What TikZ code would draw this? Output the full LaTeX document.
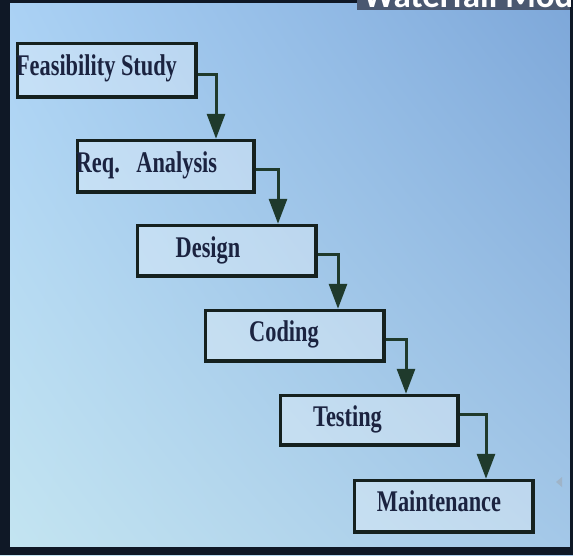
\documentclass[tikz,border=0pt]{standalone}
\usepackage{fontspec}
\usetikzlibrary{arrows.meta,shadings}
\newfontfamily\boxfont[FakeStretch=0.745]{Liberation Serif}
\newfontfamily\titlefont{Carlito}
\definecolor{bgUL}{HTML}{ABD2F5}
\definecolor{bgUR}{HTML}{7DA7D9}
\definecolor{bgLL}{HTML}{C4E5F1}
\definecolor{bgLR}{HTML}{A4C8E8}
\definecolor{framec}{HTML}{0F1826}
\definecolor{titlebg}{HTML}{4A5870}
\definecolor{boxline}{HTML}{15211F}
\definecolor{arrowc}{HTML}{1F3A2C}
\definecolor{textc}{HTML}{1B2340}
\definecolor{markc}{HTML}{9FB4C8}
\begin{document}
\begin{tikzpicture}[x=1pt,y=-1pt,
  box/.style={draw=boxline, line width=3.5pt, fill=white, fill opacity=0.3,
    draw opacity=1, rectangle, inner sep=0pt, anchor=north west},
  lbl/.style={font=\boxfont\bfseries\fontsize{30}{30}\selectfont, text=textc,
    inner sep=0pt, anchor=base},
  conn/.style={draw=arrowc, line width=3pt,
    -{Triangle[width=18pt,length=25pt]}}]
\useasboundingbox (0,0) rectangle (573,555);
% slide background
\shade[upper left=bgUL, upper right=bgUR, lower left=bgLL, lower right=bgLR]
  (0,0) rectangle (573,555);
% dark frame
\fill[framec] (0,0) rectangle (10,555);
\fill[framec] (0,0) rectangle (573,3);
\fill[framec] (0,547) rectangle (573,555);
\fill[framec] (570,0) rectangle (573,555);
% cut-off title
\fill[titlebg] (357,0) rectangle (570,10);
\begin{scope}
  \clip (357,0) rectangle (570,10);
  \node[font=\titlefont\bfseries\fontsize{35}{35}\selectfont, text=white,
    inner sep=0pt, anchor=base west] (title) at (363,7) {Waterfall Model};
\end{scope}
% small player mark
\fill[markc] (556,482) -- (562,477) -- (562,487) -- cycle;
% boxes
\node[box, minimum width=178.5pt, minimum height=53.5pt] (b1) at (15.75,41.75) {};
\node[box, minimum width=176.5pt, minimum height=51.5pt] (b2) at (75.75,138.75) {};
\node[box, minimum width=178.5pt, minimum height=50.5pt] (b3) at (135.75,223.75) {};
\node[box, minimum width=178.5pt, minimum height=50.5pt] (b4) at (203.75,308.75) {};
\node[box, minimum width=177.5pt, minimum height=49.5pt] (b5) at (278.75,393.75) {};
\node[box, minimum width=178.5pt, minimum height=51.5pt] (b6) at (352.75,478.75) {};
% labels
\node[lbl] (t1) at (96.5,75) {Feasibility Study};
\node[lbl] (t2) at (146.5,172) {Req.\hspace{16.5pt}Analysis};
\node[lbl] (t3) at (208,257) {Design};
\node[lbl] (t4) at (284,341.5) {Coding};
\node[lbl] (t5) at (347.5,426) {Testing};
\node[lbl] (t6) at (439,511) {Maintenance};
% connectors
\draw[conn] ([yshift=-4.5pt]b1.east) -| (216,0 |- b2.north);
\draw[conn] ([yshift=-3.5pt]b2.east) -| (278,0 |- b3.north);
\draw[conn] ([yshift=-4pt]b3.east) -| (338,0 |- b4.north);
\draw[conn] ([yshift=-4pt]b4.east) -| (406,0 |- b5.north);
\draw[conn] ([yshift=5.5pt]b5.east) -| (486,0 |- b6.north);
\end{tikzpicture}
\end{document}
